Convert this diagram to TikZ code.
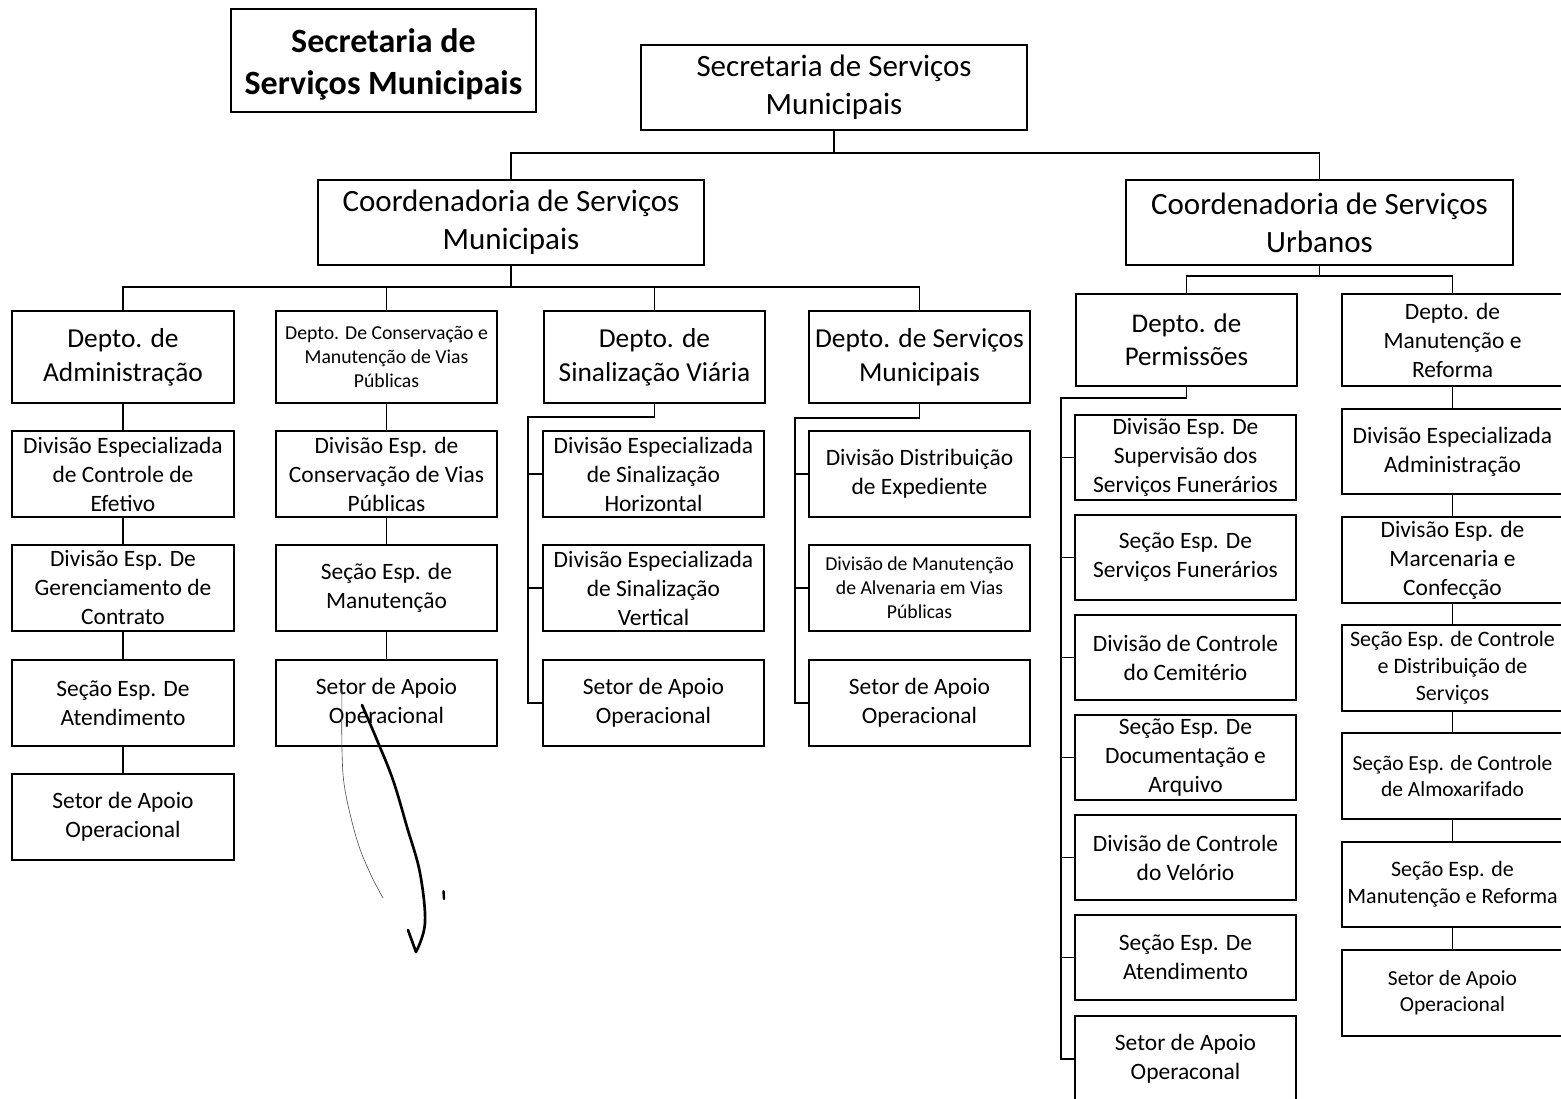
\documentclass[tikz,border=0pt]{standalone}
\usepackage{fontspec}
\setmainfont{Carlito}
\newcommand\fT{\fontsize{25.5pt}{31.5pt}\selectfont\bfseries}
\newcommand\fB{\fontsize{23.25pt}{28.5pt}\selectfont}
\newcommand\fM{\fontsize{20.55pt}{25.5pt}\selectfont}
\newcommand\fP{\fontsize{20.25pt}{24.75pt}\selectfont}
\newcommand\fS{\fontsize{17.6pt}{21.75pt}\selectfont}
\newcommand\fXS{\fontsize{14.8pt}{18pt}\selectfont}
\newcommand\fR{\fontsize{16.5pt}{20.25pt}\selectfont}
\newcommand\fRR{\fontsize{16.1pt}{19.5pt}\selectfont}
\tikzset{
  box/.style={draw=black, line width=1pt, inner sep=0pt, align=center, fill=white},
  conn/.style={draw=black, line width=1.4pt},
}
% \bx{name}{x1}{y1}{x2}{y2}{options}{text}
\newcommand\bx[7]{\node[box,#6,minimum width={(#4-#2)*0.75pt},minimum height={(#5-#3)*0.75pt}] (#1) at ({(#2+#4)/2},{(#3+#5)/2}) {#7};}
\begin{document}
\begin{tikzpicture}[x=0.75pt,y=-0.75pt]
\useasboundingbox (0,0) rectangle (1561,1099);

% title
\bx{title}{231}{9}{536}{112}{font=\fT}{\rule{0pt}{23.5pt}Secretaria de\\Serviços Municipais}

% top levels
\bx{sec}{641}{45}{1027}{130}{font=\fB}{Secretaria de Serviços\\Municipais}
\bx{cm}{318}{180}{704}{265}{font=\fB}{Coordenadoria de Serviços\\Municipais}
\bx{cu}{1126}{180}{1513}{265}{font=\fB}{Coordenadoria de Serviços\\Urbanos}

% departments
\bx{d1}{12}{311}{234}{403}{font=\fM}{Depto. de\\Administração}
\bx{d2}{276}{311}{497}{403}{font=\fXS}{Depto. De Conservação e\\Manutenção de Vias\\Públicas}
\bx{d3}{544}{311}{765}{403}{font=\fM}{Depto. de\\Sinalização Viária}
\bx{d4}{809}{311}{1030}{403}{font=\fM}{Depto. de Serviços\\Municipais}
\bx{d5}{1076}{294}{1297}{386}{font=\fP}{Depto. de\\Permissões}
\bx{d6}{1342}{294}{1563}{386}{font=\fS}{Depto. de\\Manutenção e\\Reforma}

% column 1
\bx{c11}{12}{431}{234}{517}{font=\fS}{Divisão Especializada\\de Controle de\\Efetivo}
\bx{c12}{12}{545}{234}{631}{font=\fS}{Divisão Esp. De\\Gerenciamento de\\Contrato}
\bx{c13}{12}{660}{234}{746}{font=\fS}{Seção Esp. De\\Atendimento}
\bx{c14}{12}{774}{234}{860}{font=\fS}{Setor de Apoio\\Operacional}

% column 2
\bx{c21}{276}{431}{497}{517}{font=\fS}{Divisão Esp. de\\Conservação de Vias\\Públicas}
\bx{c22}{276}{545}{497}{631}{font=\fS}{Seção Esp. de\\Manutenção}
\bx{c23}{276}{660}{497}{746}{font=\fS}{Setor de Apoio\\Operacional}

% column 3
\bx{c31}{543}{431}{764}{517}{font=\fS}{Divisão Especializada\\de Sinalização\\Horizontal}
\bx{c32}{543}{545}{764}{631}{font=\fS}{Divisão Especializada\\de Sinalização\\Vertical}
\bx{c33}{543}{660}{764}{746}{font=\fS}{Setor de Apoio\\Operacional}

% column 4
\bx{c41}{809}{431}{1030}{517}{font=\fS}{Divisão Distribuição\\de Expediente}
\bx{c42}{809}{545}{1030}{631}{font=\fXS}{Divisão de Manutenção\\de Alvenaria em Vias\\Públicas}
\bx{c43}{809}{660}{1030}{746}{font=\fS}{Setor de Apoio\\Operacional}

% column 5
\bx{c51}{1075}{415}{1296}{500}{font=\fS}{Divisão Esp. De\\Supervisão dos\\Serviços Funerários}
\bx{c52}{1075}{515}{1296}{600}{font=\fS}{Seção Esp. De\\Serviços Funerários}
\bx{c53}{1075}{615}{1296}{700}{font=\fS}{Divisão de Controle\\do Cemitério}
\bx{c54}{1075}{715}{1296}{800}{font=\fS}{Seção Esp. De\\Documentação e\\Arquivo}
\bx{c55}{1075}{815}{1296}{900}{font=\fS}{Divisão de Controle\\do Velório}
\bx{c56}{1075}{915}{1296}{1000}{font=\fS}{Seção Esp. De\\Atendimento}
\bx{c57}{1075}{1016}{1296}{1102}{font=\fS}{Setor de Apoio\\Operaconal}

% column 6
\bx{c61}{1342}{409}{1563}{494}{font=\fS}{Divisão Especializada\\Administração}
\bx{c62}{1342}{517}{1563}{603}{font=\fS}{Divisão Esp. de\\Marcenaria e\\Confecção}
\bx{c63}{1342}{625}{1563}{711}{font=\fR}{Seção Esp. de Controle\\e Distribuição de\\Serviços}
\bx{c64}{1342}{733}{1563}{819}{font=\fRR}{Seção Esp. de Controle\\de Almoxarifado}
\bx{c65}{1342}{842}{1563}{927}{font=\fR}{Seção Esp. de\\Manutenção e Reforma}
\bx{c66}{1342}{950}{1563}{1036}{font=\fRR}{Setor de Apoio\\Operacional}

% connectors: top levels
\draw[conn] (sec.south) -- ++(0,22) -| (cm.north);
\draw[conn] (sec.south) -- ++(0,22) -| (cu.north);
\foreach \d in {d1,d2,d3,d4} \draw[conn] (cm.south) -- ++(0,21) -| (\d.north);
\draw[conn] (cu.south) -- ++(0,10) -| (d5.north);
\draw[conn] (cu.south) -- ++(0,10) -| (d6.north);

% column chains
\draw[conn] (d1.south) -- (c11.north);
\draw[conn] (c11.south) -- (c12.north);
\draw[conn] (c12.south) -- (c13.north);
\draw[conn] (c13.south) -- (c14.north);
\draw[conn] (d2.south) -- (c21.north);
\draw[conn] (c21.south) -- (c22.north);
\draw[conn] (c22.south) -- (c23.north);
\draw[conn] (d6.south) -- (c61.north);
\draw[conn] (c61.south) -- (c62.north);
\draw[conn] (c62.south) -- (c63.north);
\draw[conn] (c63.south) -- (c64.north);
\draw[conn] (c64.south) -- (c65.north);
\draw[conn] (c65.south) -- (c66.north);

% side spines
\coordinate (s3) at (528,417);
\draw[conn] (d3.south) |- (s3) |- (c33.west);
\foreach \c in {c31,c32} \draw[conn] (s3 |- \c.west) -- (\c.west);
\coordinate (s4) at (795,418);
\draw[conn] (d4.south) |- (s4) |- (c43.west);
\foreach \c in {c41,c42} \draw[conn] (s4 |- \c.west) -- (\c.west);
\coordinate (s5) at (1061,398);
\draw[conn] (d5.south) |- (s5) |- (c57.west);
\foreach \c in {c51,c52,c53,c54,c55,c56} \draw[conn] (s5 |- \c.west) -- (\c.west);

% hand-drawn marks
\draw[line width=2pt, line cap=round, line join=round]
  plot[smooth, tension=0.6] coordinates {(362,705) (377,740) (393,780) (407,827) (420,873) (425,923) (416,952)}
  -- (408,930);
\draw[black!70, line width=0.45pt, line cap=round]
  plot[smooth, tension=0.6] coordinates {(342,690) (342,750) (345,790) (357,840) (370,873) (383,898)};
\draw[line width=1.8pt, line cap=round] (443.5,891) -- (444,899);
\end{tikzpicture}
\end{document}
